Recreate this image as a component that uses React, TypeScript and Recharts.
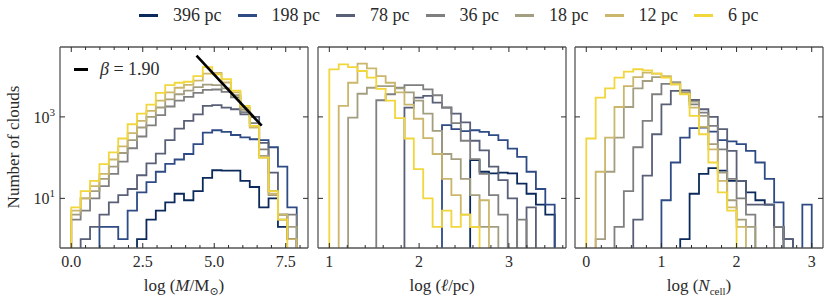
import { LineChart, Line, XAxis, YAxis } from "recharts";

const FONT = '"Liberation Serif", "DejaVu Serif", serif';
const INK = "#2b2b2b";
const FRAME = "#555555";

const resolutions = ["396 pc", "198 pc", "78 pc", "36 pc", "18 pc", "12 pc", "6 pc"];
const colors = ["#0b2a5b", "#2e4b85", "#585f77", "#7f7f7f", "#a49e80", "#cbb76b", "#f1d63c"];

// counts per bin, log(M/Msun), 24 bins over massRange
const massRange = [0, 7.885];
const mass396 = [0, 0, 0, 0, 0, 0, 0, 1, 3, 5, 8, 13, 9, 15, 32, 49, 48, 48, 27, 19, 6, 10, 2, 1];
const mass198 = [0, 0, 0, 2, 2, 1, 5, 14, 25, 45, 70, 90, 123, 214, 413, 470, 430, 360, 313, 283, 270, 180, 60, 6];
const mass78 = [0, 1, 2, 4, 8, 12, 17, 37, 72, 126, 268, 518, 800, 1160, 1860, 1940, 1690, 1540, 1160, 1000, 230, 43, 4, 1];
const mass36 = [3, 5, 10, 20, 40, 80, 170, 330, 620, 1100, 1800, 2500, 3100, 3900, 4600, 4700, 4100, 3000, 1300, 700, 160, 15, 3, 4];
const mass18 = [4, 10, 15, 30, 60, 130, 270, 550, 1000, 1700, 2700, 3600, 4400, 5400, 6200, 6000, 5000, 3400, 1500, 600, 110, 12, 4, 2];
const mass12 = [5, 10, 20, 40, 90, 190, 400, 800, 1400, 2500, 4000, 5200, 6100, 7800, 11500, 12000, 7000, 4000, 1700, 550, 100, 13, 4, 1];
const mass6 = [6, 15, 27, 69, 134, 295, 660, 1200, 2000, 3900, 6000, 6900, 7300, 10000, 16700, 11100, 8400, 4400, 1860, 600, 100, 15, 3, 0];

// log(l/pc), 24 bins over sizeRange
const sizeRange = [1.0, 3.51];
const size396 = [0, 0, 0, 0, 0, 0, 0, 0, 0, 0, 0, 0, 0, 0, 0, 87, 45, 41, 43, 41, 23, 13, 7, 4];
const size198 = [0, 0, 0, 0, 0, 0, 0, 0, 0, 0, 0, 0, 625, 500, 450, 470, 430, 355, 270, 167, 105, 45, 17, 7];
const size78 = [0, 0, 0, 0, 0, 0, 0, 0, 1690, 2970, 3270, 2240, 1690, 1200, 730, 260, 150, 60, 28, 10, 0, 6, 0, 0];
const size36 = [0, 0, 0, 0, 0, 2560, 3600, 5200, 6050, 6050, 4760, 3400, 1700, 700, 260, 92, 40, 12, 4, 0, 3, 0, 0, 0];
const size18 = [0, 0, 960, 3700, 5200, 5700, 5700, 5000, 4000, 2500, 1200, 455, 123, 92, 30, 12, 2, 2, 0, 0, 0, 0, 0, 0];
const size12 = [0, 1860, 6900, 20400, 15500, 10000, 6900, 4000, 2000, 900, 300, 123, 30, 12, 4, 2, 9, 0, 0, 0, 0, 0, 0, 0];
const size6 = [14700, 19500, 16700, 13400, 9200, 4900, 2500, 930, 295, 52, 10, 2, 5, 2, 4, 2, 0, 0, 0, 0, 0, 0, 0, 0];

// log(Ncell), 24 bins over cellRange
const cellRange = [0, 3.0];
const cell396 = [0, 0, 0, 0, 0, 0, 0, 0, 0, 0, 1, 13, 40, 55, 48, 27, 27, 14, 9, 7, 2, 0, 0, 0];
const cell198 = [0, 0, 0, 0, 0, 0, 0, 0, 9, 76, 310, 528, 550, 437, 270, 250, 214, 146, 76, 30, 8, 1, 0, 7];
const cell78 = [0, 0, 0, 0, 0, 3, 36, 375, 2040, 4350, 4500, 2600, 1540, 1000, 500, 146, 27, 7, 7, 7, 2, 1, 0, 0];
const cell36 = [0, 0, 0, 2, 15, 180, 800, 3600, 6500, 7000, 4000, 2040, 1280, 600, 160, 30, 10, 4, 0, 0, 2, 0, 0, 0];
const cell18 = [0, 1, 45, 310, 1750, 5000, 7600, 9500, 9500, 7000, 4000, 2380, 1060, 215, 43, 9, 3, 2, 0, 0, 0, 0, 0, 0];
const cell12 = [0, 45, 310, 1750, 5700, 9500, 12200, 11600, 10000, 6300, 3700, 1690, 570, 160, 27, 6, 2, 0, 0, 0, 0, 0, 0, 0];
const cell6 = [295, 2970, 5000, 9200, 12900, 14800, 13900, 11600, 9200, 6300, 3600, 1060, 375, 76, 14, 5, 0, 0, 0, 0, 0, 0, 0, 0];

// fitted power law, beta = 1.90
const betaLine = [
  { x: 4.38, y: 31800 },
  { x: 6.66, y: 610 },
];

const massTicks = [0, 0.5, 1, 1.5, 2, 2.5, 3, 3.5, 4, 4.5, 5, 5.5, 6, 6.5, 7, 7.5, 8];
const massMajor = [0, 2.5, 5, 7.5];
const massLabels = ["0.0", "2.5", "5.0", "7.5"];
const sizeTicks = [1, 1.2, 1.4, 1.6, 1.8, 2, 2.2, 2.4, 2.6, 2.8, 3, 3.2, 3.4, 3.6];
const sizeMajor = [1, 2, 3];
const sizeLabels = ["1", "2", "3"];
const cellTicks = [0, 0.2, 0.4, 0.6, 0.8, 1, 1.2, 1.4, 1.6, 1.8, 2, 2.2, 2.4, 2.6, 2.8, 3];
const cellMajor = [0, 1, 2, 3];
const cellLabels = ["0", "1", "2", "3"];
const yTicks = [10, 1000];
const yTickExp = ["1", "3"];

const Y_MIN = 0.605;
const Y_MAX = 52000;
const FLOOR = 0.05; // stands in for empty bins, falls below the axis
const PLOT_TOP = 47;
const PLOT_BOTTOM = 248;
const PLOT_W = 248;
const PAD = 62;

// matplotlib-style "step" outline: rise at first edge, drop at last edge
function stepRows(range: number[], series: number[][]) {
  const n = series[0].length;
  const w = (range[1] - range[0]) / n;
  const row = (x: number, pick: (s: number[]) => number) => {
    const r: Record<string, number> = { x };
    series.forEach((s, j) => {
      const v = pick(s);
      r["s" + j] = v > 0 ? v : FLOOR;
    });
    return r;
  };
  const rows = [row(range[0], () => 0)];
  for (let i = 0; i < n; i++) rows.push(row(range[0] + i * w, (s) => s[i]));
  rows.push(row(range[1], (s) => s[n - 1]));
  rows.push(row(range[1], () => 0));
  return rows;
}

const isMajor = (majors: number[], v: number) => majors.findIndex((m) => Math.abs(m - v) < 1e-6);

function xTick(majors: number[], labels: string[], side: "bottom" | "top") {
  return (props: any) => {
    const { x, y, payload } = props;
    const idx = isMajor(majors, payload.value);
    const len = idx >= 0 ? 5 : 3;
    const dir = side === "bottom" ? -1 : 1;
    return (
      <g>
        <line x1={x} x2={x} y1={y} y2={y + dir * len} stroke={INK} strokeWidth={1} />
        {side === "bottom" && idx >= 0 && (
          <text x={x} y={y + 19} textAnchor="middle" fontSize={16} fontFamily={FONT} fill={INK}>
            {labels[idx]}
          </text>
        )}
      </g>
    );
  };
}

function yTick(side: "left" | "right", withLabels: boolean) {
  return (props: any) => {
    const { x, y, payload } = props;
    const idx = yTicks.indexOf(payload.value);
    const dir = side === "left" ? 1 : -1;
    return (
      <g>
        <line x1={x} x2={x + dir * 5} y1={y} y2={y} stroke={INK} strokeWidth={1} />
        {withLabels && side === "left" && idx >= 0 && (
          <text x={x - 5} y={y + 6} textAnchor="end" fontSize={16} fontFamily={FONT} fill={INK}>
            10
            <tspan dy={-7} fontSize={11}>
              {yTickExp[idx]}
            </tspan>
          </text>
        )}
      </g>
    );
  };
}

interface PanelProps {
  left: number;
  range: number[];
  series: number[][];
  domain: number[];
  ticks: number[];
  majors: number[];
  labels: string[];
  yLabels?: boolean;
  extra?: React.ReactNode;
}

// axes get 1px of size (0 would hide them), margins take that back
function Panel({ left, range, series, domain, ticks, majors, labels, yLabels = false, extra }: PanelProps) {
  const rows = stepRows(range, series);
  const frame = { stroke: FRAME, strokeWidth: 1.3 };
  return (
    <div style={{ position: "absolute", left: left - PAD, top: 0 }}>
      <LineChart
        width={PLOT_W + 2 * PAD}
        height={304}
        data={rows}
        margin={{ top: PLOT_TOP - 1, bottom: 304 - PLOT_BOTTOM - 1, left: PAD - 1, right: PAD - 1 }}
      >
        <XAxis
          xAxisId="b"
          dataKey="x"
          type="number"
          domain={domain}
          allowDataOverflow
          ticks={ticks}
          interval={0}
          height={1}
          tickSize={0}
          tickMargin={0}
          tickLine={false}
          axisLine={frame}
          tick={xTick(majors, labels, "bottom")}
        />
        <XAxis
          xAxisId="t"
          orientation="top"
          dataKey="x"
          type="number"
          domain={domain}
          allowDataOverflow
          ticks={ticks}
          interval={0}
          height={1}
          tickSize={0}
          tickMargin={0}
          tickLine={false}
          axisLine={frame}
          tick={xTick(majors, labels, "top")}
        />
        <YAxis
          yAxisId="l"
          scale="log"
          domain={[Y_MIN, Y_MAX]}
          allowDataOverflow
          ticks={yTicks}
          interval={0}
          width={1}
          tickSize={0}
          tickMargin={0}
          tickLine={false}
          axisLine={frame}
          tick={yTick("left", yLabels)}
        />
        <YAxis
          yAxisId="r"
          orientation="right"
          scale="log"
          domain={[Y_MIN, Y_MAX]}
          allowDataOverflow
          ticks={yTicks}
          interval={0}
          width={1}
          tickSize={0}
          tickMargin={0}
          tickLine={false}
          axisLine={frame}
          tick={yTick("right", false)}
        />
        {resolutions.map((r, j) => (
          <Line
            key={r}
            xAxisId="b"
            yAxisId="l"
            type="stepAfter"
            dataKey={"s" + j}
            stroke={colors[j]}
            strokeWidth={1.8}
            dot={false}
            activeDot={false}
            isAnimationActive={false}
          />
        ))}
        {extra}
      </LineChart>
    </div>
  );
}

const titleStyle: React.CSSProperties = {
  position: "absolute",
  top: 276,
  width: PLOT_W,
  textAlign: "center",
  fontFamily: FONT,
  fontSize: 17,
  color: INK,
  whiteSpace: "nowrap",
};

export default function App() {
  return (
    <div
      style={{
        position: "absolute",
        left: 0,
        top: 0,
        width: 830,
        height: 304,
        background: "#fff",
        overflow: "hidden",
        fontFamily: FONT,
      }}
    >
      {/* legend */}
      <div
        style={{
          position: "absolute",
          left: 139,
          top: 5,
          display: "flex",
          alignItems: "center",
          fontSize: 18,
          color: INK,
          whiteSpace: "nowrap",
        }}
      >
        {resolutions.map((r, j) => (
          <div key={r} style={{ display: "flex", alignItems: "center", marginRight: 16 }}>
            <span style={{ display: "inline-block", width: 19, height: 2.4, background: colors[j], marginRight: 15 }} />
            <span>{r}</span>
          </div>
        ))}
      </div>

      <Panel
        left={60}
        range={massRange}
        series={[mass396, mass198, mass78, mass36, mass18, mass12, mass6]}
        domain={[-0.394, 8.279]}
        ticks={massTicks}
        majors={massMajor}
        labels={massLabels}
        yLabels
        extra={
          <Line
            xAxisId="b"
            yAxisId="l"
            data={betaLine}
            dataKey="y"
            type="linear"
            stroke="#000"
            strokeWidth={2.6}
            dot={false}
            activeDot={false}
            isAnimationActive={false}
          />
        }
      />
      <Panel
        left={318}
        range={sizeRange}
        series={[size396, size198, size78, size36, size18, size12, size6]}
        domain={[0.874, 3.636]}
        ticks={sizeTicks}
        majors={sizeMajor}
        labels={sizeLabels}
      />
      <Panel
        left={575}
        range={cellRange}
        series={[cell396, cell198, cell78, cell36, cell18, cell12, cell6]}
        domain={[-0.15, 3.15]}
        ticks={cellTicks}
        majors={cellMajor}
        labels={cellLabels}
      />

      {/* beta legend inside first panel */}
      <div style={{ position: "absolute", left: 74, top: 59, display: "flex", alignItems: "center", fontSize: 18, color: INK }}>
        <span style={{ display: "inline-block", width: 14, height: 3, background: "#000", marginRight: 12 }} />
        <span>
          <i>β</i> = 1.90
        </span>
      </div>

      {/* axis titles */}
      <div style={{ ...titleStyle, left: 60 }}>
        log (<i>M</i>/M<sub style={{ fontSize: 11 }}>⊙</sub>)
      </div>
      <div style={{ ...titleStyle, left: 318 }}>
        log (<i>ℓ</i>/pc)
      </div>
      <div style={{ ...titleStyle, left: 575 }}>
        log (<i>N</i>
        <sub style={{ fontSize: 11 }}>cell</sub>)
      </div>
      <div
        style={{
          position: "absolute",
          left: 14,
          top: 147,
          transform: "translate(-50%, -50%) rotate(-90deg)",
          fontSize: 17,
          color: INK,
          whiteSpace: "nowrap",
        }}
      >
        Number of clouds
      </div>
    </div>
  );
}
